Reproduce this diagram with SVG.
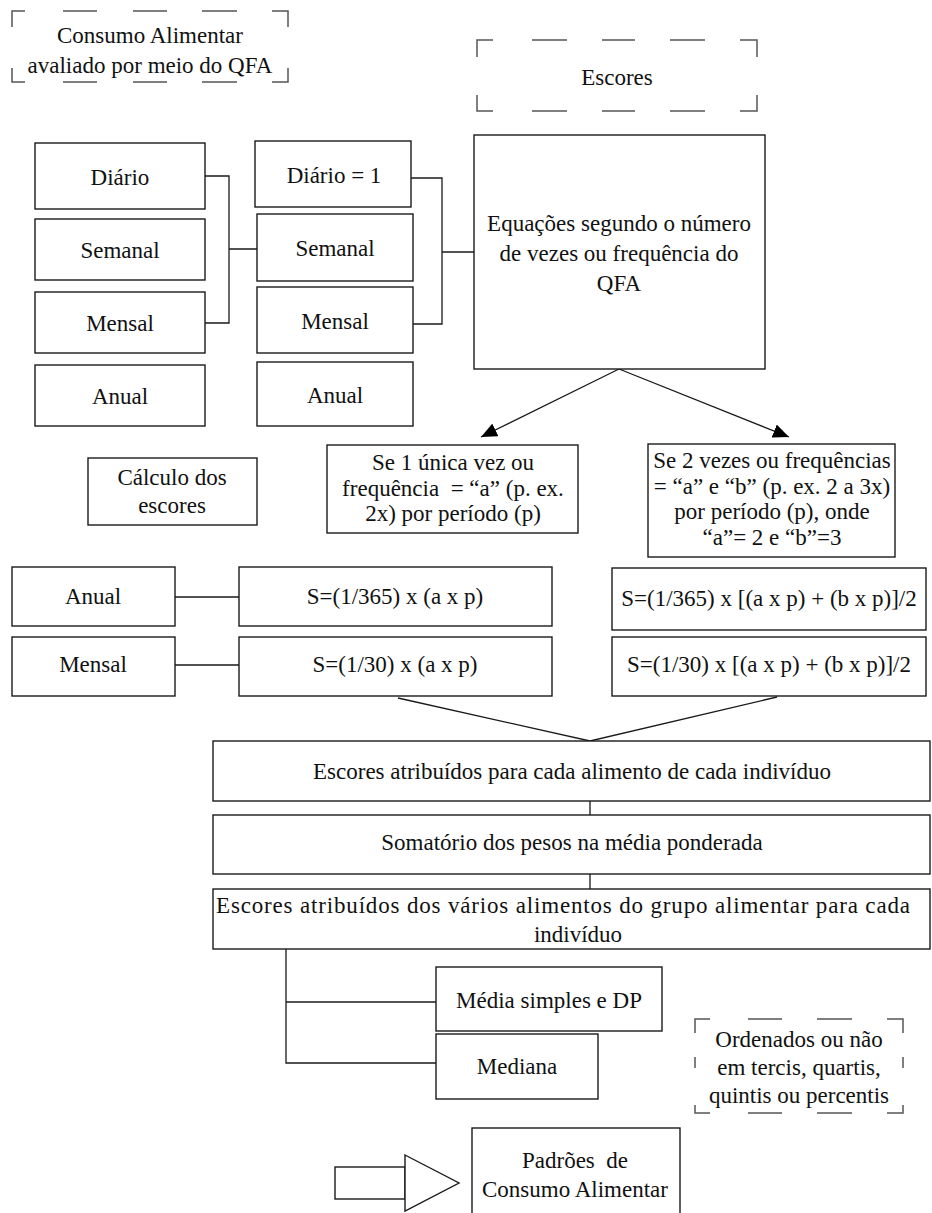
<svg xmlns="http://www.w3.org/2000/svg" width="932" height="1213" viewBox="0 0 932 1213">
<style>
  text { font-family: "Liberation Serif", "Times New Roman", serif; font-size: 23px; fill: #111; text-anchor: middle; }
  .box { fill: #fff; stroke: #1a1a1a; stroke-width: 1.4; }
  .dash { fill: none; stroke: #555; stroke-width: 1.5; }
  .line { fill: none; stroke: #1a1a1a; stroke-width: 1.3; }
</style>
<defs>
  <marker id="arrow" markerUnits="userSpaceOnUse" markerWidth="18" markerHeight="14" refX="16" refY="7" orient="auto">
    <path d="M0,0 L16,7 L0,14 Z" fill="#000"/>
  </marker>
</defs>
<rect width="932" height="1213" fill="#fff"/>

<g id="connectors">
  <path class="line" d="M205,176 H229 V323 H205 M229,249 H257"/>
  <path class="line" d="M411,178 H442 V324 H413 M442,252 H485"/>
  <path class="line" d="M619,369 L481,437" marker-end="url(#arrow)"/>
  <path class="line" d="M619,369 L789,437" marker-end="url(#arrow)"/>
  <path class="line" d="M175,597 H240 M175,665 H240"/>
  <path class="line" d="M398,698 L590,741 L777,697"/>
  <path class="line" d="M590,801 V815 M590,874 V889"/>
  <path class="line" d="M286,949 V1063 H436 M286,1002 H436"/>
</g>

<g id="consumo">
  <path class="dash" d="M25,11 H12 V27 M63,11 H97 M133,11 H167 M202,11 H237 M272,11 H288 V27 M12,68 V82 H25 M63,82 H97 M133,82 H167 M202,82 H237 M288,68 V82 H272"/>
  <text x="150" y="43">Consumo Alimentar</text>
  <text x="150" y="73">avaliado por meio do QFA</text>
</g>

<g id="escores">
  <path class="dash" d="M493,40 H477 V57 M532,40 H567 M602,40 H635 M670,40 H705 M740,40 H757 V57 M477,95 V111 H493 M532,111 H567 M602,111 H635 M670,111 H705 M757,95 V111 H740"/>
  <text x="617" y="85">Escores</text>
</g>

<g id="l-diario"><rect class="box" x="35" y="143" width="170" height="66"/><text x="120" y="185">Diário</text></g>
<g id="l-semanal"><rect class="box" x="35" y="219" width="170" height="61"/><text x="120" y="258">Semanal</text></g>
<g id="l-mensal"><rect class="box" x="35" y="292" width="170" height="61"/><text x="120" y="331">Mensal</text></g>
<g id="l-anual"><rect class="box" x="35" y="365" width="170" height="61"/><text x="120" y="404">Anual</text></g>

<g id="r-diario"><rect class="box" x="255" y="141" width="156" height="66"/><text x="334" y="183">Diário = 1</text></g>
<g id="r-semanal"><rect class="box" x="257" y="214" width="156" height="67"/><text x="335" y="256">Semanal</text></g>
<g id="r-mensal"><rect class="box" x="257" y="287" width="156" height="66"/><text x="335" y="329">Mensal</text></g>
<g id="r-anual"><rect class="box" x="257" y="362" width="156" height="64"/><text x="335" y="403">Anual</text></g>

<g id="equacoes">
  <rect class="box" x="474" y="135" width="291" height="234"/>
  <text x="619" y="231">Equações segundo o número</text>
  <text x="619" y="261">de vezes ou frequência do</text>
  <text x="619" y="291">QFA</text>
</g>

<g id="calculo">
  <rect class="box" x="88" y="458" width="169" height="67"/>
  <text x="172" y="485">Cálculo dos</text>
  <text x="172" y="513">escores</text>
</g>

<g id="se1">
  <rect class="box" x="327" y="445" width="251" height="88"/>
  <text x="453" y="470">Se 1 única vez ou</text>
  <text x="453" y="496" xml:space="preserve">frequência  = “a” (p. ex.</text>
  <text x="453" y="521">2x) por período (p)</text>
</g>

<g id="se2">
  <rect class="box" x="648" y="444" width="247" height="113"/>
  <text x="772" y="468">Se 2 vezes ou frequências</text>
  <text x="772" y="494">= “a” e “b” (p. ex. 2 a 3x)</text>
  <text x="772" y="519">por período (p), onde</text>
  <text x="772" y="545">“a”= 2 e “b”=3</text>
</g>

<g id="b-anual"><rect class="box" x="12" y="567" width="163" height="59"/><text x="93" y="604">Anual</text></g>
<g id="b-mensal"><rect class="box" x="12" y="637" width="163" height="59"/><text x="93" y="672">Mensal</text></g>

<g id="s365"><rect class="box" x="239" y="567" width="313" height="59"/><text x="395" y="604">S=(1/365) x (a x p)</text></g>
<g id="s30"><rect class="box" x="239" y="637" width="313" height="59"/><text x="395" y="672">S=(1/30) x (a x p)</text></g>

<g id="s365b"><rect class="box" x="612" y="568" width="314" height="62"/><text x="769" y="606">S=(1/365) x [(a x p) + (b x p)]/2</text></g>
<g id="s30b"><rect class="box" x="612" y="637" width="314" height="59"/><text x="769" y="672">S=(1/30) x [(a x p) + (b x p)]/2</text></g>

<g id="escores-atrib">
  <rect class="box" x="213" y="741" width="717" height="60"/>
  <text x="572" y="779">Escores atribuídos para cada alimento de cada indivíduo</text>
</g>

<g id="somatorio">
  <rect class="box" x="213" y="815" width="717" height="59"/>
  <text x="572" y="850">Somatório dos pesos na média ponderada</text>
</g>

<g id="escores-grupo">
  <rect class="box" x="213" y="889" width="717" height="60"/>
  <text x="563" y="913" textLength="694" lengthAdjust="spacing">Escores atribuídos dos vários alimentos do grupo alimentar para cada</text>
  <text x="578" y="942">indivíduo</text>
</g>

<g id="media"><rect class="box" x="436" y="967" width="226" height="64"/><text x="549" y="1008">Média simples e DP</text></g>
<g id="mediana"><rect class="box" x="436" y="1034" width="162" height="65"/><text x="517" y="1074">Mediana</text></g>

<g id="ordenados">
  <path class="dash" d="M710,1019 H695 V1033 M748,1019 H782 M817,1019 H852 M887,1019 H903 V1033 M695,1057 V1068 M903,1057 V1068 M695,1105 V1113 H710 M748,1113 H782 M817,1113 H852 M903,1105 V1113 H887"/>
  <text x="799" y="1047">Ordenados ou não</text>
  <text x="799" y="1075">em tercis, quartis,</text>
  <text x="799" y="1103">quintis ou percentis</text>
</g>

<g id="seta">
  <rect class="box" x="335" y="1167" width="70" height="32"/>
  <path class="box" d="M405,1155 L459,1183 L405,1211 Z"/>
</g>

<g id="padroes">
  <rect class="box" x="472" y="1128" width="208" height="100"/>
  <text x="575" y="1168" xml:space="preserve">Padrões  de</text>
  <text x="575" y="1197">Consumo Alimentar</text>
</g>
</svg>
